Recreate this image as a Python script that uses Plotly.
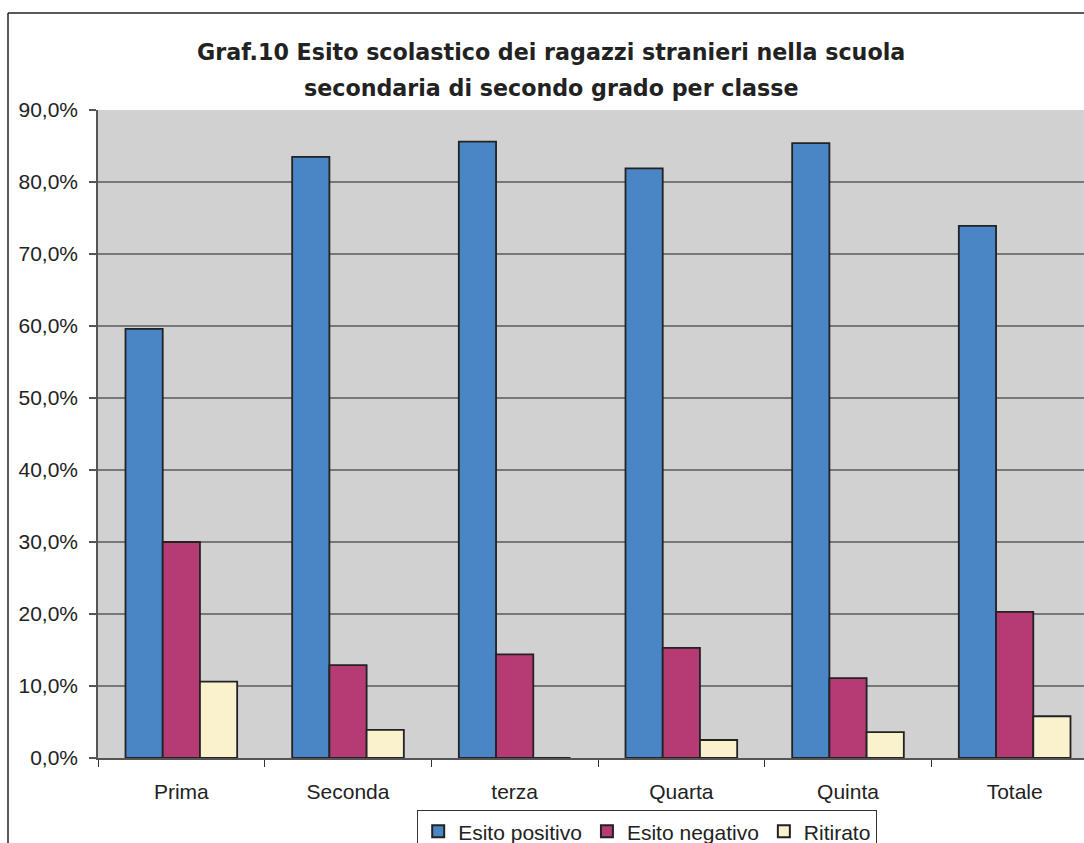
import plotly.graph_objects as go

categories = ["Prima", "Seconda", "terza", "Quarta", "Quinta", "Totale"]
esito_positivo = [59.6, 83.5, 85.6, 81.9, 85.4, 73.9]
esito_negativo = [30.0, 12.9, 14.4, 15.3, 11.1, 20.3]
ritirato = [10.6, 3.9, 0.0, 2.5, 3.6, 5.8]
y_ticks = [0, 10, 20, 30, 40, 50, 60, 70, 80, 90]
y_tick_labels = [f"{v},0%" for v in y_ticks]
title_lines = ["Graf.10 Esito scolastico dei ragazzi stranieri nella scuola",
               "secondaria di secondo grado per classe"]

series = [
    ("Esito positivo", esito_positivo, "#4a86c6"),
    ("Esito negativo", esito_negativo, "#b63a74"),
    ("Ritirato", ritirato, "#faf1cd"),
]

fig = go.Figure()
for name, vals, col in series:
    fig.add_trace(go.Bar(
        x=categories, y=vals, name=name,
        marker=dict(color=col, line=dict(color="#222222", width=1.8)),
    ))

W, H = 1084, 843
ml, mr, mt, mb = 98, 0, 110, 85
pw, ph = W - ml - mr, H - mt - mb

def py(pix_y):
    # pixel y (from top of canvas) -> paper y
    return (H - mb - pix_y) / ph

def px(pix_x):
    return (pix_x - ml) / pw

fig.update_layout(
    width=W, height=H,
    margin=dict(l=ml, r=mr, t=mt, b=mb, pad=0, autoexpand=False),
    paper_bgcolor="white",
    plot_bgcolor="#d1d1d1",
    barmode="group",
    bargap=0.33,
    bargroupgap=0,
    font=dict(family="Liberation Sans, Arial, sans-serif", size=21, color="#222222"),
    xaxis=dict(
        type="category",
        automargin=False,
        range=[-0.5, -0.5 + pw / (1000 / 6)],
        showgrid=False,
        showline=True, linecolor="#555555", linewidth=1.5,
        ticks="outside", tickson="boundaries", ticklen=7, tickcolor="#333333", tickwidth=1.2,
        tickfont=dict(size=21, color="#222222"),
        ticklabelstandoff=14,
    ),
    yaxis=dict(
        automargin=False,
        range=[0, 90],
        tickvals=y_ticks, ticktext=y_tick_labels,
        showgrid=True, gridcolor="#777777", gridwidth=1.6,
        showline=True, linecolor="#555555", linewidth=1.5,
        ticks="outside", ticklen=7, tickcolor="#555555", tickwidth=1.5,
        tickfont=dict(size=21, color="#222222"),
        ticklabelstandoff=7,
        zeroline=False,
    ),
    legend=dict(
        orientation="h",
        x=px(647), xanchor="center",
        y=py(810), yanchor="top",
        bordercolor="#333333", borderwidth=1.2,
        bgcolor="white",
        font=dict(size=21, color="#222222"),
        itemsizing="constant",
        traceorder="normal",
        itemwidth=30,
    ),
    showlegend=True,
)

for line_text, yc in zip(title_lines, [52, 88]):
    fig.add_annotation(
        text=f"<b>{line_text}</b>", showarrow=False,
        xref="paper", yref="paper", x=px(551), y=py(yc),
        xanchor="center", yanchor="middle",
        font=dict(family="DejaVu Sans, sans-serif", size=22.2, color="#222222"),
    )

# outer chart border (left and top edges visible)
fig.add_shape(type="line", xref="paper", yref="paper",
              x0=px(8), x1=px(W + 5), y0=py(13), y1=py(13),
              line=dict(color="#222222", width=1.5))
fig.add_shape(type="line", xref="paper", yref="paper",
              x0=px(8), x1=px(8), y0=py(13), y1=py(H + 5),
              line=dict(color="#222222", width=1.5))

fig.write_html("out.html",
               config={"displayModeBar": False},
               post_script="document.body.style.margin='0';document.body.style.overflow='hidden';")
